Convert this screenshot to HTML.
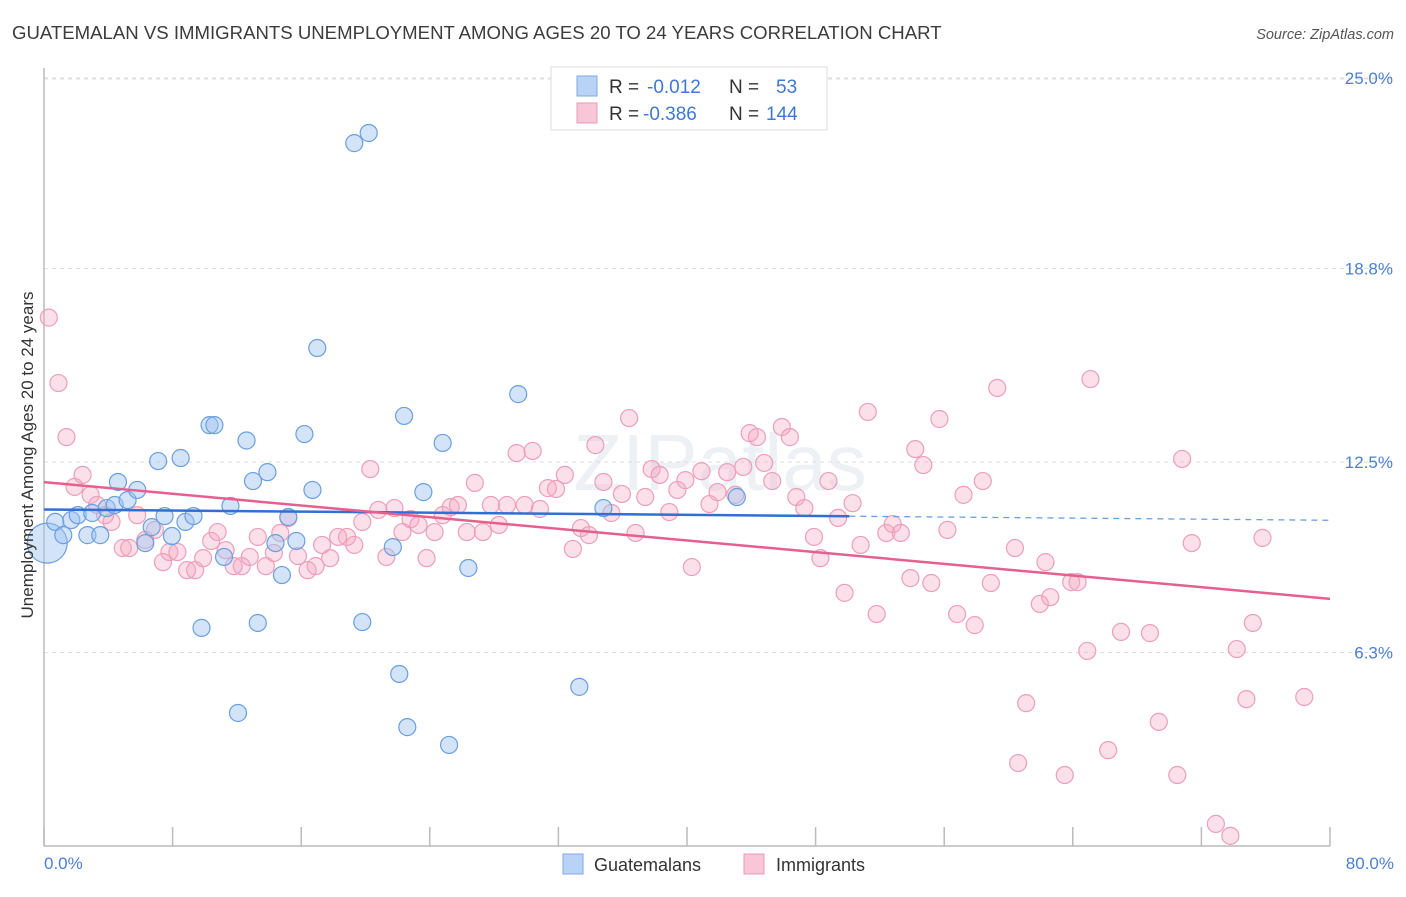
<!DOCTYPE html>
<html><head><meta charset="utf-8"><style>
body{margin:0;background:#fff;font-family:"Liberation Sans",sans-serif}
svg text{font-family:"Liberation Sans",sans-serif}
</style></head><body>
<svg id="chart" width="1406" height="892" xmlns="http://www.w3.org/2000/svg">
<text x="12" y="39" font-size="18.6" fill="#3c3c3c">GUATEMALAN VS IMMIGRANTS UNEMPLOYMENT AMONG AGES 20 TO 24 YEARS CORRELATION CHART</text>
<text x="1394" y="39" font-size="14.5" fill="#555" font-style="italic" text-anchor="end">Source: ZipAtlas.com</text>
<text x="720" y="490" font-size="80" fill="#edf1f6" text-anchor="middle">ZIPatlas</text>
<g id="grid"></g>
<g id="axes"></g>
<g id="pts"></g>
<g id="trend"></g>
<text transform="translate(33,455) rotate(-90)" font-size="17" fill="#333" text-anchor="middle">Unemployment Among Ages 20 to 24 years</text>
<text x="44" y="869" font-size="17" fill="#4a7fd6">0.0%</text>
<text x="1394" y="869" font-size="17" fill="#4a7fd6" text-anchor="end">80.0%</text>
<g>
<rect x="551" y="67" width="276" height="63" fill="#fff" stroke="#ddd"/>
<rect x="577" y="76" width="20" height="20" fill="#b8d3f5" stroke="#7eaae6"/>
<rect x="577" y="103" width="20" height="20" fill="#f8c6d6" stroke="#eb9bb5"/>
<text x="609" y="93" font-size="19" fill="#333">R = </text><text x="647" y="93" font-size="19" fill="#3f78d4">-0.012</text>
<text x="729" y="93" font-size="19" fill="#333">N = </text><text x="776" y="93" font-size="19" fill="#3f78d4">53</text>
<text x="609" y="120" font-size="19" fill="#333">R = </text><text x="643" y="120" font-size="19" fill="#3f78d4">-0.386</text>
<text x="729" y="120" font-size="19" fill="#333">N = </text><text x="766" y="120" font-size="19" fill="#3f78d4">144</text>
</g>
<g>
<rect x="563" y="854" width="20" height="20" fill="#b8d3f5" stroke="#7eaae6"/>
<text x="594" y="871" font-size="18" fill="#333">Guatemalans</text>
<rect x="744" y="854" width="20" height="20" fill="#f8c6d6" stroke="#eb9bb5"/>
<text x="776" y="871" font-size="18" fill="#333">Immigrants</text>
</g>
</svg>
<script>
const yTicks=[6.3,12.5,18.8,25.0];
const yTickLabels=["6.3%","12.5%","18.8%","25.0%"];
const xTicks=[0,8,16,24,32,40,48,56,64,72,80];
const guatX=[0.2,0.7,1.2,1.7,2.1,2.7,3.0,3.5,3.9,4.4,4.6,5.2,5.8,6.3,6.7,7.1,7.5,7.96,8.5,8.8,9.3,9.8,10.3,10.6,11.2,11.6,12.07,12.6,13.0,13.3,13.9,14.4,14.8,15.2,15.7,16.2,16.7,17.0,19.3,20.2,19.8,21.7,22.1,22.4,22.6,23.6,24.8,25.2,26.4,29.5,33.3,34.8,43.1];
const guatY=[9.86,10.55,10.12,10.61,10.77,10.12,10.84,10.12,11.0,11.1,11.85,11.26,11.59,9.86,10.38,12.53,10.74,10.09,12.63,10.55,10.74,7.10,13.70,13.70,9.41,11.07,4.33,13.2,11.88,7.26,12.17,9.86,8.82,10.71,9.93,13.41,11.59,16.21,22.88,23.21,7.29,9.73,5.60,14.0,3.87,11.52,13.12,3.29,9.05,14.71,5.18,11.0,11.36];
const immX=[0.3,0.9,1.4,1.9,2.4,2.9,3.3,3.8,4.2,4.9,5.3,5.8,6.3,6.9,7.4,7.8,8.3,8.9,9.4,9.9,10.4,10.8,11.3,11.8,12.3,12.8,13.3,13.8,14.3,14.7,15.2,15.8,16.4,16.9,17.3,17.8,18.3,18.85,19.3,19.8,20.3,20.8,21.3,21.8,22.3,22.8,23.3,23.8,24.3,24.8,25.3,25.75,26.3,26.8,27.3,27.8,28.3,28.8,29.4,29.9,30.4,30.85,31.35,31.85,32.4,32.9,33.4,33.9,34.3,34.8,35.3,35.95,36.4,36.8,37.4,37.8,38.3,38.9,39.4,39.9,40.3,40.9,41.4,41.9,42.5,43.0,43.5,43.9,44.35,44.8,45.3,45.9,46.4,46.8,47.3,47.9,48.3,48.8,49.4,49.8,50.3,50.8,51.25,51.8,52.4,52.8,53.3,53.9,54.2,54.7,55.2,55.7,56.2,56.8,57.2,57.9,58.4,58.9,59.3,60.4,60.6,61.1,61.95,62.3,62.6,63.5,63.9,64.3,64.9,65.1,66.2,67.0,68.8,69.35,70.5,70.8,71.4,72.9,73.8,74.2,74.8,75.2,75.8,78.4];
const immY=[17.2,15.07,13.31,11.69,12.08,11.43,11.1,10.77,10.55,9.7,9.7,10.77,9.96,10.29,9.24,9.57,9.57,8.98,8.98,9.37,9.93,10.22,9.63,9.11,9.11,9.41,10.06,9.11,9.54,10.19,10.68,9.44,8.98,9.11,9.8,9.37,10.06,10.06,9.8,10.55,12.27,10.94,9.41,11.0,10.22,10.64,10.45,9.37,10.22,10.77,11.03,11.1,10.22,11.82,10.22,11.1,10.45,11.1,12.79,11.1,12.86,10.97,11.65,11.62,12.08,9.67,10.35,10.12,13.05,11.85,10.84,11.46,13.93,10.19,11.36,12.27,12.08,10.87,11.59,11.91,9.08,12.2,11.13,11.52,12.17,11.43,12.34,13.44,13.31,12.47,11.88,13.64,13.31,11.36,11.0,10.06,9.37,11.88,10.68,8.24,11.16,9.8,14.13,7.55,10.19,10.48,10.19,8.72,12.92,12.4,8.56,13.9,10.29,7.55,11.43,7.19,11.88,8.56,14.91,9.7,2.7,4.65,7.88,9.24,8.1,2.31,8.59,8.59,6.35,15.2,3.12,6.97,6.93,4.04,2.31,12.6,9.86,0.72,0.33,6.41,4.78,7.26,10.03,4.85];
const NS="http://www.w3.org/2000/svg";
const X0=44,X1=1330,Y0=846,PXV=30.72;
function xs(v){return X0+(v/80)*(X1-X0);}
function ys(v){return Y0-v*PXV;}
function mk(t,a,p){const e=document.createElementNS(NS,t);for(const k in a)e.setAttribute(k,a[k]);p.appendChild(e);return e;}
const gridG=document.getElementById('grid'),axesG=document.getElementById('axes');
yTicks.forEach((t,i)=>{
  const l=mk('line',{x1:X0,x2:1394,y1:ys(t),y2:ys(t),stroke:'#ddd','stroke-dasharray':'4,4'},gridG);
  
  
  const tx=mk('text',{x:1393,y:ys(t)+6,'font-size':17,fill:'#4a7fd6','text-anchor':'end'},axesG);
  tx.textContent=yTickLabels[i];
  
  
});
const topGrid=mk('line',{x1:X0,x2:1394,y1:79,y2:79,stroke:'#ddd','stroke-dasharray':'4,4'},gridG);


const ya=mk('line',{x1:X0,x2:X0,y1:68,y2:Y0,stroke:'#bbb','stroke-width':1.5},axesG);


const xa=mk('line',{x1:X0,x2:X1,y1:Y0,y2:Y0,stroke:'#bbb','stroke-width':1.5},axesG);


xTicks.forEach(t=>{
  const l=mk('line',{x1:xs(t),x2:xs(t),y1:Y0,y2:Y0-19,stroke:'#bbb','stroke-width':1.5},axesG);
  
  
});
const ptsG=document.getElementById('pts');
immX.forEach((x,i)=>{
  const c=mk('circle',{cx:xs(x),cy:ys(immY[i]),r:8.5,fill:'rgba(245,165,192,0.35)',stroke:'#ec9fb9','stroke-width':1.2},ptsG);
  
  
});
guatX.forEach((x,i)=>{
  const c=mk('circle',{cx:xs(x),cy:ys(guatY[i]),r:i===0?20:8.5,fill:'rgba(160,196,240,0.45)',stroke:'#6a9fe0','stroke-width':1.2},ptsG);
  
  
});
function fit(X,Y){const n=X.length;let mx=0,my=0;for(let i=0;i<n;i++){mx+=X[i];my+=Y[i];}mx/=n;my/=n;let sxy=0,sxx=0;for(let i=0;i<n;i++){sxy+=(X[i]-mx)*(Y[i]-my);sxx+=(X[i]-mx)**2;}const b=sxy/sxx;return [my-b*mx,b];}
const trG=document.getElementById('trend');
const gfit=fit(guatX,guatY);
const ga=gfit[0],gb=gfit[1];
const gmax=Math.max(...guatX)+7;
const l1=mk('line',{x1:xs(0),y1:ys(ga),x2:xs(gmax),y2:ys(ga+gb*gmax),stroke:'#2f6fd6','stroke-width':2.5},trG);


const l2=mk('line',{x1:xs(gmax),y1:ys(ga+gb*gmax),x2:xs(80),y2:ys(ga+gb*80),stroke:'#6a9fe0','stroke-width':1.3,'stroke-dasharray':'6,5'},trG);


const ifit=fit(immX,immY);
const ia=ifit[0],ib=ifit[1];
const l3=mk('line',{x1:xs(0),y1:ys(ia),x2:xs(80),y2:ys(ia+ib*80),stroke:'#e4608e','stroke-width':2.5},trG);


</script>
</body></html>
